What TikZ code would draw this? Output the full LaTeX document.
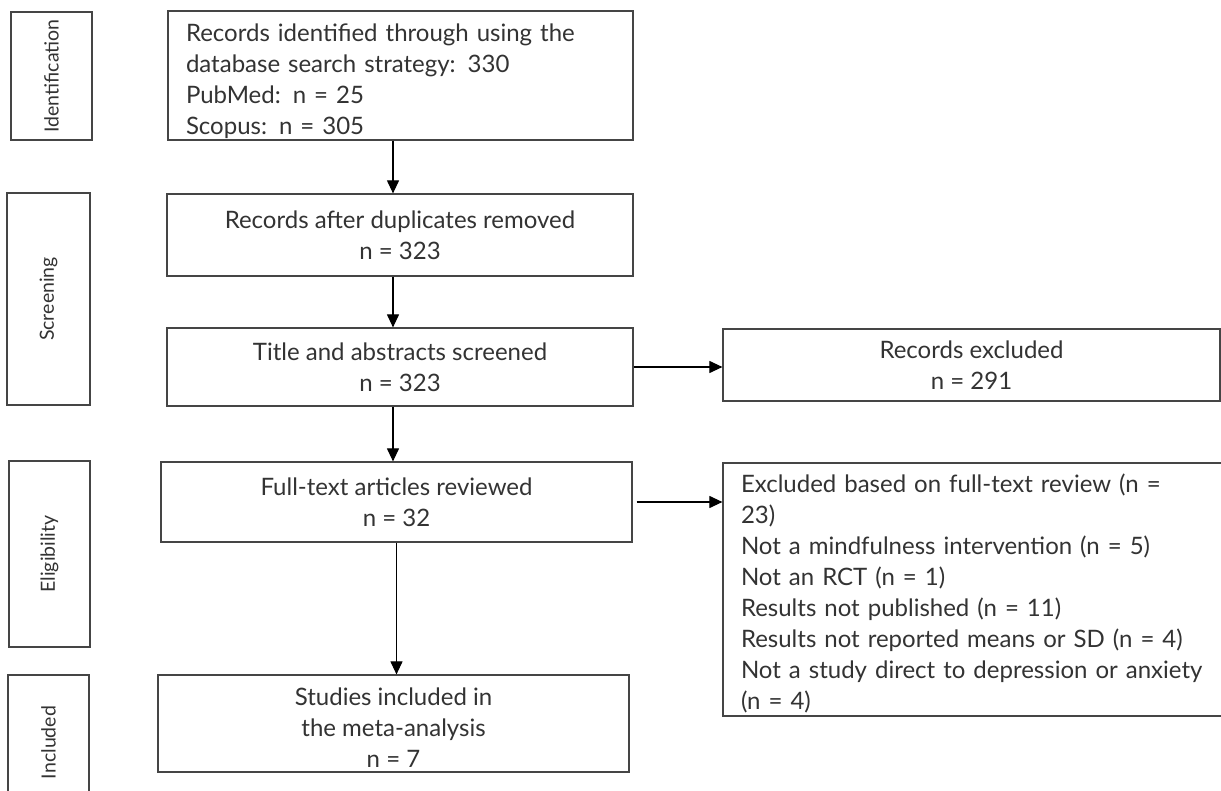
\documentclass[tikz,border=0pt]{standalone}
\usepackage{fontspec}
\setmainfont{Lato}
\usetikzlibrary{arrows.meta}
\definecolor{linegray}{HTML}{454545}
\definecolor{textgray}{HTML}{333333}
\newcommand{\boxfont}{\fontsize{24}{28}\selectfont}
\newcommand{\labfont}{\fontsize{19.5}{22}\selectfont}
\newcommand{\nl}{\\[3pt]}
\begin{document}
\begin{tikzpicture}[x=1pt,y=-1pt,
  box/.style={draw=linegray, line width=1.2pt, inner sep=0pt, text=textgray, font=\boxfont, align=center},
  lbox/.style={box, align=left},
  stage/.style={draw=linegray, line width=1.2pt, inner sep=0pt, text=textgray, font=\labfont, rotate=90},
  arr/.style={draw=black, line width=1.1pt, -{Triangle[length=13pt,width=12pt]}}]
\clip (0,0) rectangle (1221,791);
\fill[white] (0,0) rectangle (1221,791);
% stage labels
\node[stage, minimum width=128pt, minimum height=81pt] (s1) at (51.5,76) {Identification};
\node[stage, minimum width=212pt, minimum height=83pt] (s2) at (48.5,299) {Screening};
\node[stage, minimum width=186pt, minimum height=81pt] (s3) at (49.5,554) {Eligibility};
\node[stage, minimum width=135pt, minimum height=81pt] (s4) at (48.5,742.5) {Included};
% main boxes
\node[lbox, minimum width=465pt, minimum height=129pt, text width=429pt] (b1) at (400.5,75.5)
  {\rule{0pt}{29pt}Records identified through using the\nl database search strategy: 330\nl PubMed: n = 25\nl Scopus: n = 305};
\node[box, minimum width=466pt, minimum height=82pt] (b2) at (400,235)
  {Records after duplicates removed\nl n = 323};
\node[box, minimum width=466pt, minimum height=78pt] (b3) at (400,367)
  {Title and abstracts screened\nl n = 323};
\node[box, minimum width=471pt, minimum height=80pt] (b4) at (396.5,502)
  {Full-text articles reviewed\nl n = 32};
\node[box, minimum width=471pt, minimum height=97pt] (b5) at (393.5,723.5)
  {\rule{0pt}{26pt}Studies included in\nl the meta-analysis\nl n = 7};
\node[box, minimum width=497pt, minimum height=72pt] (e1) at (971.5,365)
  {Records excluded\nl n = 291};
\node[lbox, minimum width=517pt, minimum height=253pt, text width=481pt] (e2) at (981.5,589.5)
  {\rule{0pt}{27pt}Excluded based on full-text review (n =\nl 23)\nl Not a mindfulness intervention (n = 5)\nl Not an RCT (n = 1)\nl Results not published (n = 11)\nl Results not reported means or SD (n = 4)\nl Not a study direct to depression or anxiety\nl (n = 4)};
% connectors
\coordinate (c1) at (393,0);
\draw[arr] (b1.south -| c1) -- (b2.north -| c1);
\draw[arr] (b2.south -| c1) -- (b3.north -| c1);
\draw[arr] (b3.south -| c1) -- (b4.north -| c1);
\draw[arr] (b4.south) -- (b5.north -| b4.south);
\draw[arr] (b3.east) -- (b3.east -| e1.west);
\draw[arr] ([xshift=4pt]b4.east) -- (b4.east -| e2.west);
\end{tikzpicture}
\end{document}
